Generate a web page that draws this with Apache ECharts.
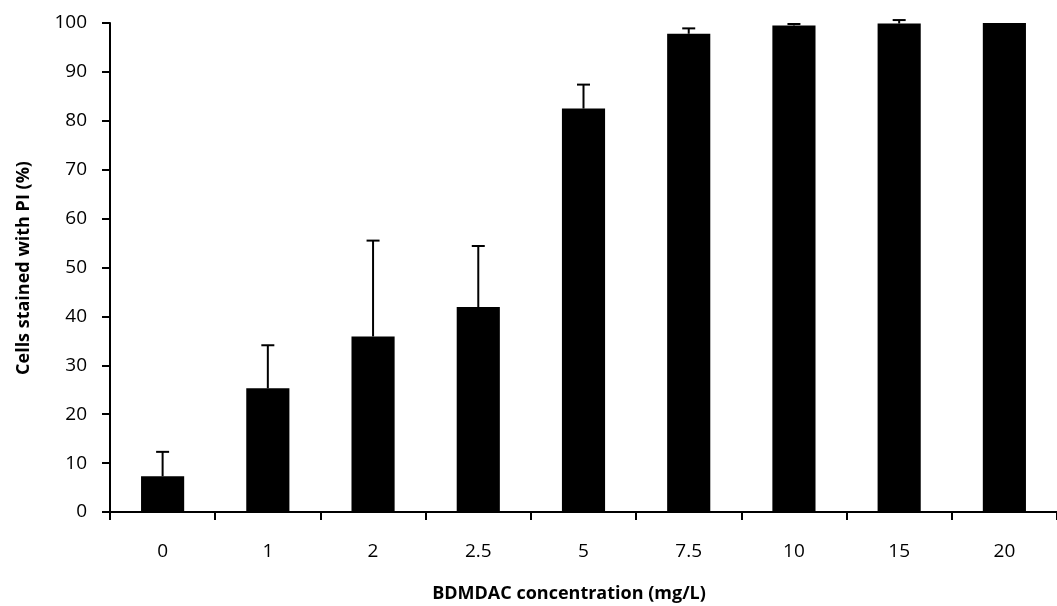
<!DOCTYPE html>
<html>
<head>
<meta charset="utf-8">
<script src="https://cdn.jsdelivr.net/npm/echarts@6/dist/echarts.min.js"></script>
<style>
  html, body { margin: 0; padding: 0; background: #fff; }
  #chart { width: 1057px; height: 606px; }
</style>
</head>
<body>
<div id="chart"></div>
<script>
// BDMDAC concentrations (mg/L)
const categories = ['0', '1', '2', '2.5', '5', '7.5', '10', '15', '20'];
// Mean percentage of cells stained with PI
const meanValues = [7.3, 25.3, 35.9, 41.9, 82.5, 97.8, 99.5, 99.9, 100];
// Upper error (standard deviation)
const errValues = [5.0, 8.8, 19.6, 12.5, 4.9, 1.1, 0.3, 0.7, 0];
// Y-axis tick labels
const yTicks = [0, 10, 20, 30, 40, 50, 60, 70, 80, 90, 100];

const FONT = '"Open Sans", "Liberation Sans", sans-serif';

const chart = echarts.init(document.getElementById('chart'), null, { renderer: 'canvas' });

const errData = categories.map((c, i) => [i, meanValues[i], errValues[i]]);

chart.setOption({
  backgroundColor: '#ffffff',
  animation: false,
  grid: { left: 110, right: -10, top: 23, bottom: 94, containLabel: false },
  xAxis: {
    type: 'category',
    data: categories,
    axisLine: { lineStyle: { color: '#000', width: 2 } },
    axisTick: { show: true, length: 8, inside: false, lineStyle: { color: '#000', width: 2 } },
    axisLabel: { color: '#000', fontSize: 19, fontFamily: FONT, margin: 30 },
    splitLine: { show: false }
  },
  yAxis: {
    type: 'value',
    min: yTicks[0],
    max: yTicks[yTicks.length - 1],
    interval: 10,
    axisLine: { show: true, lineStyle: { color: '#000', width: 2 } },
    axisTick: { show: true, length: 8, lineStyle: { color: '#000', width: 2 } },
    axisLabel: { color: '#000', fontSize: 19, fontFamily: FONT, margin: 23 },
    splitLine: { show: false }
  },
  graphic: [
    {
      type: 'text',
      x: 569,
      y: 594,
      style: {
        text: 'BDMDAC concentration (mg/L)',
        fill: '#000',
        font: 'bold 18px ' + FONT,
        align: 'center',
        verticalAlign: 'middle'
      }
    },
    {
      type: 'text',
      x: 24,
      y: 268,
      rotation: Math.PI / 2,
      style: {
        text: 'Cells stained with PI (%)',
        fill: '#000',
        font: 'bold 18px ' + FONT,
        align: 'center',
        verticalAlign: 'middle'
      }
    }
  ],
  series: [
    {
      type: 'bar',
      data: meanValues,
      barWidth: '41%',
      itemStyle: { color: '#000' },
      z: 2
    },
    {
      type: 'custom',
      data: errData,
      z: 3,
      renderItem: function (params, api) {
        const idx = api.value(0);
        const mean = api.value(1);
        const err = api.value(2);
        if (!err) return null;
        const base = api.coord([idx, mean]);
        const top = api.coord([idx, mean + err]);
        const capHalf = 6.5;
        const style = { stroke: '#000', lineWidth: 2 };
        return {
          type: 'group',
          children: [
            { type: 'line', shape: { x1: top[0], y1: base[1], x2: top[0], y2: top[1] }, style: style },
            { type: 'line', shape: { x1: top[0] - capHalf, y1: top[1], x2: top[0] + capHalf, y2: top[1] }, style: style }
          ]
        };
      }
    }
  ]
});
</script>
</body>
</html>
